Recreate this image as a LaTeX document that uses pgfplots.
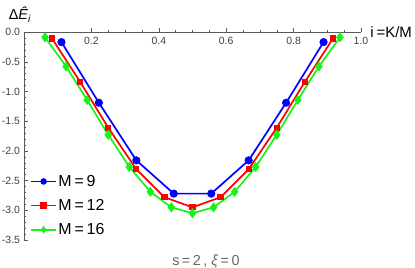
\documentclass[border=0pt]{standalone}
\usepackage{pgfplots}
\pgfplotsset{compat=1.18}
\usepackage{fontspec}
\setmainfont{Liberation Sans}
\definecolor{mblue}{rgb}{0,0,1}
\definecolor{mred}{rgb}{1,0,0}
\definecolor{mgreen}{rgb}{0.1,0.95,0.1}
\definecolor{tickgray}{gray}{0.25}
\newcommand{\lsp}{\hspace{2.8bp}}
\begin{document}
\begin{tikzpicture}
\begin{axis}[
  scale only axis, width=337bp, height=208bp,
  xmin=0, xmax=1, ymin=-3.5, ymax=0,
  enlargelimits=false, clip=false,
  axis lines=middle,
  hide obscured x ticks=false, hide obscured y ticks=false,
  axis line style={-, draw=gray!70!black, line width=0.5bp},
  xtick={0.2,0.4,0.6,0.8,1.0},
  xticklabels={0.2,0.4,0.6,0.8,1.0},
  ytick={0,-0.5,-1,-1.5,-2,-2.5,-3,-3.5},
  yticklabels={0.0,-0.5,-1.0,-1.5,-2.0,-2.5,-3.0,-3.5},
  minor x tick num=3, minor y tick num=4,
  tick align=inside,
  major tick length=4bp, minor tick length=2.2bp,
  tick style={draw=gray!70!black, line width=0.4bp},
  ticklabel style={font=\fontsize{10.5}{11}\selectfont, text=tickgray},
  xticklabel style={anchor=north, yshift=-1.5bp},
  yticklabel style={anchor=east, xshift=-0.5bp},
  legend cell align=left,
  legend style={at={(axis cs:0.018,-2.38)}, anchor=north west, draw=none, fill=none,
    font=\fontsize{16}{16}\selectfont, row sep=8.5bp, inner sep=0pt,
    nodes={inner sep=1.5bp}},
  legend image code/.code={\draw[mark repeat=2,mark phase=2,#1,mark size=2.4bp] plot coordinates {(0bp,0bp) (12.5bp,0bp) (25bp,0bp)};},
]
\addplot[mblue, line width=1.7bp, mark=*, mark size=3.2bp, mark options={solid}] coordinates {
(0.1111,-0.17) (0.2222,-1.19) (0.3333,-2.16) (0.4444,-2.72) (0.5556,-2.72) (0.6667,-2.16) (0.7778,-1.19) (0.8889,-0.17)};
\addlegendentry{M\lsp=\lsp9}
\addplot[mred, line width=1.7bp, mark=square*, mark size=2.3bp, mark options={solid}] coordinates {
(0.0833,-0.11) (0.1667,-0.84) (0.25,-1.61) (0.3333,-2.31) (0.4167,-2.78) (0.5,-2.95) (0.5833,-2.78) (0.6667,-2.31) (0.75,-1.61) (0.8333,-0.84) (0.9167,-0.11)};
\addlegendentry{M\lsp=\lsp12}
\addplot[mgreen, line width=1.7bp, mark=diamond*, mark size=3.7bp, mark options={solid}] coordinates {
(0.0625,-0.09) (0.125,-0.58) (0.1875,-1.145) (0.25,-1.73) (0.3125,-2.27) (0.375,-2.69) (0.4375,-2.95) (0.5,-3.05) (0.5625,-2.95) (0.625,-2.69) (0.6875,-2.27) (0.75,-1.73) (0.8125,-1.145) (0.875,-0.58) (0.9375,-0.09)};
\addlegendentry{M\lsp=\lsp16}
\node[anchor=center, font=\fontsize{14.5}{14.5}\selectfont] at (axis cs:-0.012,0.29) {Δ\textit{Ê}\textsubscript{\textit{i}}};
\node[anchor=west, font=\fontsize{15}{15}\selectfont, inner sep=0pt] at (axis cs:1.027,-0.0) {i\hspace{3bp}=K/M};
\node[anchor=center, font=\fontsize{14.5}{14.5}\selectfont, text=gray!80!black] at (axis cs:0.54,-3.86) {s\,=\,2\,,\;\textit{ξ}\,=\,0};
\end{axis}
\pgfresetboundingbox
\path (-24bp,-28bp) rectangle (391bp,240bp);
\end{tikzpicture}
\end{document}
